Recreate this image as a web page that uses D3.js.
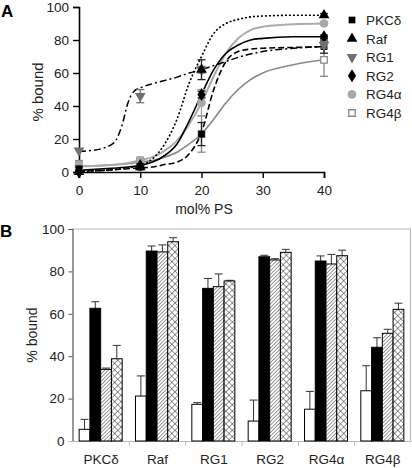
<!DOCTYPE html>
<html><head><meta charset="utf-8">
<script src="https://cdn.jsdelivr.net/npm/d3@7"></script>
<style>
html,body{margin:0;padding:0;background:#fff;}
svg{display:block;font-family:"Liberation Sans",Arial,sans-serif;}
</style></head>
<body>
<svg id="chart" width="412" height="468"></svg>
<script>
// ---------- Panel A data ----------
const seriesA = ["PKCδ","Raf","RG1","RG2","RG4α","RG4β"];
const xTicksA = [0,10,20,30,40];
const yTicksA = [0,20,40,60,80,100];
const molPS = [0,10,20,40];
// measured points (mean) per series
const ptsPKC  = [2, 3, 23, 76];
const ptsRaf  = [0, 3, 62, 95];
const ptsRG1  = [13, 46, 62, 77];
const ptsRG2  = [0, 4, 47, 82];
const ptsRG4a = [4, 7, 42, 90];
const ptsRG4b = [4, 7, 23, 68];
// error (+/-)
const errPKC  = [1, 1, 7, 4];
const errRaf  = [0, 1, 6, 1];
const errRG1  = [0, 4, 2, 2];
const errRG2  = [0, 1, 2, 1];
const errRG4a = [2, 1, 8, 1];
const errRG4b = [3, 1, 11, 10];
// fitted curves (x = mol% PS)
const curveX    = [0, 4, 8, 10, 12, 14, 16, 18, 20, 22, 24, 26, 28, 30, 35, 40];
const curvePKC  = [0.5, 1, 2, 2.5, 3, 4.5, 6, 11, 24, 50, 67, 73, 74.5, 75, 75.5, 76];
const curveRaf  = [0.3, 1, 2.5, 4, 8, 17, 32, 54, 70, 84, 90, 92.5, 94, 94.5, 95, 95];
const curveRG2  = [1, 2, 3, 4, 6, 10, 17, 31, 47, 62, 72, 77, 80, 81, 82, 82];
const curveRG4a = [3.5, 4, 5.5, 7, 9, 13, 19, 29, 42, 58, 72, 81, 86, 88, 89.5, 90];
const curveRG4b = [3.5, 4, 5, 6, 7, 9, 12, 17, 23, 32, 42, 50, 56, 60, 65, 68];
const rg1X      = [0, 2, 4, 5, 6, 7, 8, 9, 10, 12, 14, 16, 18, 20, 22, 24, 26, 28, 30, 35, 40];
const curveRG1  = [12.5, 13, 14.5, 16, 19, 28, 42, 49, 51, 53.5, 55.5, 57.5, 60, 62, 64.5, 67, 69.5, 71.5, 73, 75, 76];

// ---------- Panel B data ----------
const categoriesB = ["PKCδ","Raf","RG1","RG2","RG4α","RG4β"];
const barKeys = ["s0","s1","s2","s3"];
const barS0 = [5.5, 21.2, 17.3, 9.4, 15, 23.7];
const barS1 = [62.6, 89.6, 72, 86.9, 84.9, 44.2];
const barS2 = [33.8, 89.2, 72.8, 85.4, 83.5, 50.8];
const barS3 = [38.8, 94, 75.5, 89, 87.4, 62.1];
const errS0 = [4.7, 9.5, 0.8, 9.9, 8.4, 11.8];
const errS1 = [3.1, 2.4, 4.7, 0.7, 2.4, 4.5];
const errS2 = [0.6, 3.3, 6, 0.6, 4.5, 1.9];
const errS3 = [6.3, 1.9, 0.3, 1.4, 2.6, 2.9];
const yTicksB = [0,20,40,60,80,100];

const svg = d3.select("#chart");
const defs = svg.append("defs");
// hatch patterns
const ph = defs.append("pattern").attr("id","hatch").attr("patternUnits","userSpaceOnUse")
  .attr("width",2.6).attr("height",2.6).attr("patternTransform","rotate(45)");
ph.append("rect").attr("width",2.6).attr("height",2.6).attr("fill","#fff");
ph.append("line").attr("x1",0).attr("y1",0).attr("x2",0).attr("y2",2.6).attr("stroke","#555").attr("stroke-width",1.2);
const pc = defs.append("pattern").attr("id","cross").attr("patternUnits","userSpaceOnUse")
  .attr("width",4.5).attr("height",4.5).attr("patternTransform","rotate(45)");
pc.append("rect").attr("width",4.5).attr("height",4.5).attr("fill","#fff");
pc.append("line").attr("x1",0).attr("y1",0).attr("x2",0).attr("y2",4.5).attr("stroke","#222").attr("stroke-width",0.9);
pc.append("line").attr("x1",0).attr("y1",0).attr("x2",4.5).attr("y2",0).attr("stroke","#222").attr("stroke-width",0.9);

// ================= Panel A =================
const xA = d3.scaleLinear().domain([0,40]).range([79,324]);
const yA = d3.scaleLinear().domain([0,100]).range([172,7]);
const gA = svg.append("g");

const axAx = gA.append("g").attr("transform",`translate(0,${yA(0)})`)
  .call(d3.axisBottom(xA).tickValues(xTicksA).tickSize(6).tickPadding(7));
const axAy = gA.append("g").attr("transform",`translate(${xA(0)},0)`)
  .call(d3.axisLeft(yA).tickValues(yTicksA).tickSize(6).tickPadding(4));
[axAx,axAy].forEach(a=>{
  a.selectAll("path").attr("stroke","#000").attr("stroke-width",1.6);
  a.selectAll("line").attr("stroke","#000").attr("stroke-width",1.4);
  a.selectAll("text").attr("font-size",13.5).attr("fill","#222").attr("font-family","Liberation Sans, Arial, sans-serif");
});
gA.append("text").attr("x",204).attr("y",214).attr("text-anchor","middle").attr("font-size",14).attr("fill","#222").text("mol% PS");
gA.append("text").attr("transform","translate(43,92) rotate(-90)").attr("text-anchor","middle").attr("font-size",15).attr("fill","#222").text("% bound");
gA.append("text").attr("x",1).attr("y",17).attr("font-size",17).attr("font-weight","bold").text("A");

const styles = {
  "PKCδ":{color:"#000",dash:"6,3",w:1.6,marker:"square",fill:"#000",pts:ptsPKC,err:errPKC,cx:curveX,cy:curvePKC,ecol:"#222"},
  "Raf":{color:"#000",dash:"2,2",w:1.6,marker:"triangle",fill:"#000",pts:ptsRaf,err:errRaf,cx:curveX,cy:curveRaf,ecol:"#222"},
  "RG1":{color:"#000",dash:"7,3,2,3",w:1.5,marker:"triangleDown",fill:"#6f6f6f",pts:ptsRG1,err:errRG1,cx:rg1X,cy:curveRG1,ecol:"#6f6f6f"},
  "RG2":{color:"#000",dash:null,w:1.6,marker:"diamond",fill:"#000",pts:ptsRG2,err:errRG2,cx:curveX,cy:curveRG2,ecol:"#222"},
  "RG4α":{color:"#ababab",dash:null,w:2,marker:"circle",fill:"#a8a8a8",pts:ptsRG4a,err:errRG4a,cx:curveX,cy:curveRG4a,ecol:"#a0a0a0"},
  "RG4β":{color:"#888",dash:null,w:1.6,marker:"openSquare",fill:"#fff",pts:ptsRG4b,err:errRG4b,cx:curveX,cy:curveRG4b,ecol:"#888"}
};
const symMap = {square:d3.symbolSquare,triangle:d3.symbolTriangle,triangleDown:d3.symbolTriangle,diamond:d3.symbolDiamond,circle:d3.symbolCircle,openSquare:d3.symbolSquare};
const symSize = {square:45,triangle:50,triangleDown:50,diamond:48,circle:60,openSquare:42};
function drawMarker(g,type,x,y,s){
  const p = g.append("path").attr("d",d3.symbol().type(symMap[type]).size(symSize[type])())
    .attr("transform",`translate(${x},${y})`+(type==="triangleDown"?" rotate(180)":"") + (type==="diamond"?" scale(1.1,1)":""));
  if(type==="openSquare") p.attr("fill","#fff").attr("stroke",s.color).attr("stroke-width",1.3);
  else p.attr("fill",s.fill);
}
const lineA = d3.line().x(d=>xA(d[0])).y(d=>yA(d[1])).curve(d3.curveMonotoneX);
const drawOrder = ["RG4β","RG4α","PKCδ","RG2","RG1","Raf"];
drawOrder.forEach(k=>{
  const s = styles[k];
  const pts = s.cx.map((x,i)=>[x,s.cy[i]]);
  gA.append("path").attr("d",lineA(pts)).attr("fill","none").attr("stroke",s.color)
    .attr("stroke-width",s.w).attr("stroke-dasharray",s.dash);
});
drawOrder.forEach(k=>{
  const s = styles[k];
  molPS.forEach((m,i)=>{
    const e = s.err[i];
    if(e>0){
      const x = xA(m);
      gA.append("line").attr("x1",x).attr("x2",x).attr("y1",yA(s.pts[i]-e)).attr("y2",yA(s.pts[i]+e)).attr("stroke",s.ecol).attr("stroke-width",1.3);
      [s.pts[i]-e,s.pts[i]+e].forEach(v=>gA.append("line").attr("x1",x-4).attr("x2",x+4).attr("y1",yA(v)).attr("y2",yA(v)).attr("stroke",s.ecol).attr("stroke-width",1.3));
    }
    drawMarker(gA,s.marker,xA(m),yA(s.pts[i]),s);
  });
});
// legend
seriesA.forEach((k,i)=>{
  const y = 20 + i*18.6;
  drawMarker(gA,styles[k].marker,352,y,styles[k]);
  gA.append("text").attr("x",366).attr("y",y+5).attr("font-size",13.5).attr("fill","#222").text(k);
});

// ================= Panel B =================
const xB = d3.scaleBand().domain(categoriesB).range([73,411]);
const xInner = d3.scaleBand().domain(barKeys).range([0,43]);
const yB = d3.scaleLinear().domain([0,100]).range([441,229]);
const gB = svg.append("g");
// frame: top gridline + right border
gB.append("line").attr("x1",72).attr("x2",411).attr("y1",yB(100)).attr("y2",yB(100)).attr("stroke","#bbb").attr("stroke-width",1.2);
gB.append("line").attr("x1",410.5).attr("x2",410.5).attr("y1",yB(100)).attr("y2",yB(0)).attr("stroke","#bbb").attr("stroke-width",1.2);
const axBy = gB.append("g").attr("transform",`translate(72.5,0)`)
  .call(d3.axisLeft(yB).tickValues(yTicksB).tickSize(4).tickPadding(4));
axBy.selectAll("path").attr("stroke","#555").attr("stroke-width",1.2);
axBy.selectAll("line").attr("stroke","#555");
axBy.selectAll("text").attr("font-size",13.5).attr("fill","#222").attr("font-family","Liberation Sans, Arial, sans-serif");
// x axis
gB.append("line").attr("x1",68).attr("x2",411).attr("y1",yB(0)+0.5).attr("y2",yB(0)+0.5).attr("stroke","#bbb").attr("stroke-width",1.2);
categoriesB.slice(1).forEach(c=>{
  const x = xB(c);
  gB.append("line").attr("x1",x).attr("x2",x).attr("y1",yB(0)).attr("y2",yB(0)+5).attr("stroke","#bbb").attr("stroke-width",1);
});
categoriesB.forEach(c=>{
  gB.append("text").attr("x",xB(c)+xB.bandwidth()/2).attr("y",464).attr("text-anchor","middle").attr("font-size",13.5).attr("fill","#222").text(c);
});
gB.append("text").attr("transform","translate(37,335) rotate(-90)").attr("text-anchor","middle").attr("font-size",14).attr("fill","#222").text("% bound");
gB.append("text").attr("x",0).attr("y",237).attr("font-size",17).attr("font-weight","bold").text("B");

const barVals = {s0:barS0,s1:barS1,s2:barS2,s3:barS3};
const barErr = {s0:errS0,s1:errS1,s2:errS2,s3:errS3};
const barFill = {s0:"#fff",s1:"#000",s2:"url(#hatch)",s3:"url(#cross)"};
categoriesB.forEach((c,ci)=>{
  const off = xB(c) + (xB.bandwidth()-43)/2 - 0.5;
  barKeys.forEach(k=>{
    const v = barVals[k][ci], e = barErr[k][ci];
    const x = off + xInner(k), w = xInner.bandwidth();
    const cx = x + w/2;
    gB.append("line").attr("x1",cx).attr("x2",cx).attr("y1",yB(v)).attr("y2",yB(v+e)).attr("stroke","#333").attr("stroke-width",1);
    gB.append("line").attr("x1",cx-4).attr("x2",cx+4).attr("y1",yB(v+e)).attr("y2",yB(v+e)).attr("stroke","#333").attr("stroke-width",1);
    gB.append("rect").attr("x",x).attr("y",yB(v)).attr("width",w).attr("height",yB(0)-yB(v))
      .attr("fill",barFill[k]).attr("stroke","#000").attr("stroke-width",1);
  });
});
</script>
</body></html>
